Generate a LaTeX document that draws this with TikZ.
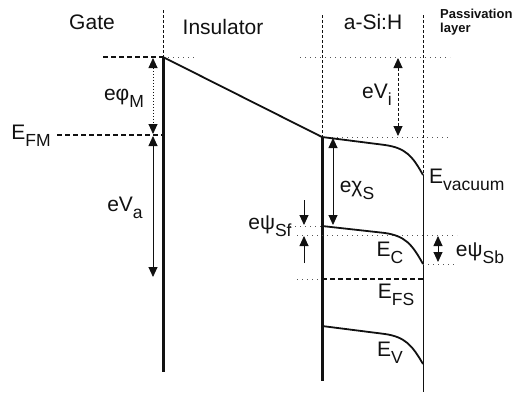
\documentclass[tikz,border=0pt]{standalone}
\usepackage{fontspec}
\setmainfont{Liberation Sans}
\usepackage{xcolor}
\definecolor{inkblack}{HTML}{111111}
\definecolor{dotgray}{HTML}{555555}
\usepackage{tikz}
\usetikzlibrary{arrows.meta, positioning, calc}
\newcommand{\lowtxt}[1]{\raisebox{-0.33em}{\fontsize{17.5}{18}\selectfont #1}}
\tikzset{
  wallln/.style={line width=3pt, color=inkblack},
  bandln/.style={line width=1.8pt, color=inkblack},
  dashln/.style={line width=1.2pt, dash pattern=on 5pt off 3pt, color=inkblack},
  bndln/.style ={line width=0.9pt, dash pattern=on 3pt off 2pt, color=inkblack},
  dotln/.style ={line width=0.7pt, dash pattern=on 1pt off 4pt, color=dotgray},
  darr/.style={{Triangle[length=10pt, width=9pt]}-{Triangle[length=10pt, width=9pt]}, line width=0.9pt, color=inkblack},
  sarr/.style={-{Triangle[length=10pt, width=9pt]}, line width=0.9pt, color=inkblack},
  blbl/.style={font=\fontsize{21}{22}\selectfont, text=inkblack, inner sep=1pt},
  plbl/.style={font=\fontsize{13}{14}\selectfont\bfseries, text=inkblack, align=left, inner sep=0pt},
}

\begin{document}
\begin{tikzpicture}[x=1pt, y=-1pt]
  \useasboundingbox (0,0) rectangle (522,392);
  % corners of the bands
  \coordinate (gtop) at (163,57);
  \coordinate (gfm)  at (163,135);
  \coordinate (itop) at (322,137);
  \coordinate (vbot) at (423,175);
  \coordinate (cfront) at (322,226);
  \coordinate (cback)  at (423,264);
  \coordinate (vfront) at (322,326);
  \coordinate (vback)  at (423,364);

  % layer titles
  \node[blbl] (gate) at (92,22) {Gate};
  \node[blbl] (ins) at (223,27) {Insulator};
  \node[blbl] (asi) at (373,22) {a-Si:H};
  \node[plbl, anchor=west] (pass) at (440,22) {Passivation\\layer};

  % layer boundaries
  \draw[bndln] (163,10) -- (gtop);
  \draw[bndln] (322,15) -- (itop);
  \draw[bndln] (423,15) -- (vbot);
  \draw[line width=0.9pt, color=inkblack] (vbot) -- (423,392);
  \draw[wallln] (gtop) -- (163,372);
  \draw[wallln] (itop) -- (322,381);

  % guide lines
  \draw[dashln] (103,57) -- (gtop);
  \draw[dotln] (gtop) -- (195,57);
  \draw[dotln] (300,57) -- (450,57);
  \draw[dotln] (itop) -- (450,137);
  \draw[dotln] (290,226) -- (cfront);
  \draw[dotln] (297,235) -- (457,235);
  \draw[dotln] (cback) -- (457,264);
  \draw[dotln] (297,279) -- (322,279);

  % bands
  \draw[bandln] (gtop) -- (itop) -- (385,145) .. controls (405,148) and (412,155) .. (vbot);
  \draw[bandln] (cfront) -- (385,233) .. controls (405,236) and (412,244) .. (cback);
  \draw[bandln] (vfront) -- (385,334) .. controls (405,337) and (412,345) .. (vback);
  \draw[dashln] (57,135) -- (gfm);
  \draw[dashln] (322,279) -- (423,279);

  % energy arrows
  \draw[darr, dash pattern=on 1pt off 2pt] (153,58) -- (153,134);
  \draw[darr] (153,136) -- (153,277);
  \draw[darr, dash pattern=on 3pt off 2pt] (398,58) -- (398,136);
  \draw[darr] (333,138) -- (333,225);
  \draw[sarr] (304,200) -- (304,225);
  \draw[sarr] (304,263) -- (304,236);
  \draw[darr] (438,236) -- (438,262);

  % labels
  \node[blbl] (efm) at (31,136) {E\lowtxt{FM}};
  \node[blbl] (ephi) at (124,98) {eφ\lowtxt{M}};
  \node[blbl] (eva) at (125,208) {eV\lowtxt{a}};
  \node[blbl] (evi) at (377,95) {eV\lowtxt{i}};
  \node[blbl] (echi) at (357,190) {eχ\lowtxt{S}};
  \node[blbl] (epsf) at (270,226) {eψ\lowtxt{Sf}};
  \node[blbl] (epsb) at (480,253) {eψ\lowtxt{Sb}};
  \node[blbl, anchor=west] (evac) at (428,180) {E\lowtxt{vacuum}};
  \node[blbl] (ec) at (390,253) {E\lowtxt{C}};
  \node[blbl] (efs) at (396,295) {E\lowtxt{FS}};
  \node[blbl] (ev) at (390,353) {E\lowtxt{V}};
\end{tikzpicture}
\end{document}
